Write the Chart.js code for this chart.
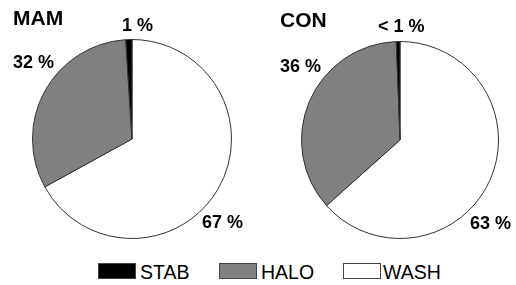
<!DOCTYPE html>
<html>
<head>
<meta charset="utf-8">
<script src="https://cdn.jsdelivr.net/npm/chart.js@4/dist/chart.umd.min.js"></script>
<style>
  html, body { margin: 0; padding: 0; background: #fff; width: 516px; height: 285px; overflow: hidden; }
  body { position: relative; font-family: 'Liberation Sans', Arial, sans-serif; }
  canvas { position: absolute; }
  .lg { position: absolute; height: 16px; }
  .box { position: absolute; width: 36px; height: 14px; border: 1px solid #444; }
  .lt { position: absolute; font-size: 19.5px; line-height: 19px; color: #000; white-space: nowrap; }
</style>
</head>
<body>
<canvas id="mam" width="258" height="250" style="left:0;top:0;width:258px;height:250px"></canvas>
<canvas id="con" width="258" height="250" style="left:258px;top:0;width:258px;height:250px"></canvas>
<div id="legend"></div>
<script>
// Data
const categories = ['WASH', 'HALO', 'STAB'];
const legendOrder = ['STAB', 'HALO', 'WASH'];
const mamValues = [67, 32, 1];
const conValues = [63.4, 36, 0.6];
const mamLabels = ['67 %', '32 %', '1 %'];
const conLabels = ['63 %', '36 %', '< 1 %'];
const titles = ['MAM', 'CON'];

const colors = { WASH: '#ffffff', HALO: '#808080', STAB: '#000000' };
const FONT = "'Liberation Sans', Arial, sans-serif";

function textPlugin(title, labels, pos) {
  return {
    id: 'txt',
    afterDraw(chart) {
      const ctx = chart.ctx;
      ctx.save();
      ctx.fillStyle = '#000';
      ctx.textBaseline = 'alphabetic';
      ctx.textAlign = 'left';
      ctx.font = 'bold 21px ' + FONT;
      ctx.fillText(title, pos.title[0], pos.title[1]);
      ctx.font = 'bold 18px ' + FONT;
      labels.forEach((l, i) => ctx.fillText(l, pos.labels[i][0], pos.labels[i][1]));
      ctx.restore();
    }
  };
}

function makePie(id, values, labels, title, padding, pos) {
  new Chart(document.getElementById(id), {
    type: 'pie',
    data: {
      labels: categories,
      datasets: [{
        data: values,
        backgroundColor: categories.map(c => colors[c]),
        borderColor: '#333333',
        borderWidth: 1
      }]
    },
    options: {
      responsive: false,
      animation: false,
      layout: { padding: padding },
      plugins: { legend: { display: false }, tooltip: { enabled: false } }
    },
    plugins: [textPlugin(title, labels, pos)]
  });
}

makePie('mam', mamValues, mamLabels, titles[0],
  { left: 32, right: 26, top: 39, bottom: 11 },
  { title: [13, 25], labels: [[202, 228], [13, 68], [122, 31]] });
makePie('con', conValues, conLabels, titles[1],
  { left: 43, right: 17, top: 41, bottom: 11 },
  { title: [22, 27], labels: [[212, 229], [22, 72], [120, 32]] });

// Legend
const legendX = { STAB: [98, 140], HALO: [219, 261], WASH: [343, 383] };
const lg = document.getElementById('legend');
legendOrder.forEach(c => {
  const b = document.createElement('div');
  b.className = 'lg box';
  b.style.left = legendX[c][0] + 'px';
  b.style.top = '263px';
  b.style.background = colors[c];
  lg.appendChild(b);
  const t = document.createElement('div');
  t.className = 'lg lt';
  t.style.left = legendX[c][1] + 'px';
  t.style.top = '263px';
  t.textContent = c;
  lg.appendChild(t);
});
</script>
</body>
</html>
